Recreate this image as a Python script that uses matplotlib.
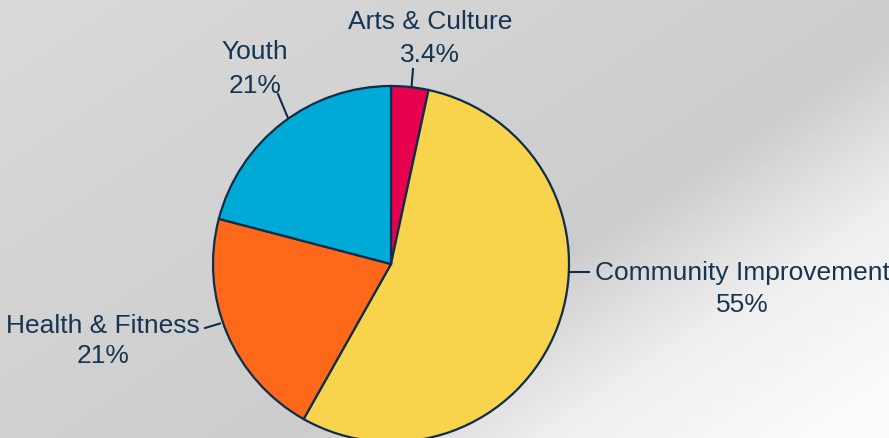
import numpy as np
import matplotlib
matplotlib.use("Agg")
import matplotlib.pyplot as plt

categories = ["Arts & Culture", "Community Improvement", "Health & Fitness", "Youth"]
values = [3.4, 55, 21, 21]
pct_labels = ["3.4%", "55%", "21%", "21%"]
colors = ["#e6004d", "#f7d44c", "#fd6919", "#00aad7"]

W, H = 889, 439
fig = plt.figure(figsize=(W / 100, H / 100), dpi=100)
ax = fig.add_axes([0, 0, 1, 1])

# background gradient
yy, xx = np.mgrid[0:H, 0:W]
p = xx + 1.5 * yy
bg = np.interp(p, [0, 650, 950, 1200, 1500], [218, 208, 204, 238, 252]) / 255.0
ax.imshow(bg, cmap="gray", vmin=0, vmax=1, extent=[0, W, 0, H], origin="upper",
          aspect="auto", zorder=0, interpolation="bilinear")

cx, cy, r = 391, H - 265, 178
ax.pie(values, colors=colors, startangle=90, counterclock=False,
       center=(cx, cy), radius=r,
       wedgeprops=dict(edgecolor="#0f2d4a", linewidth=1.6), frame=True)

ax.set_xlim(0, W)
ax.set_ylim(0, H)
ax.set_aspect("auto")
ax.axis("off")

txt = "#163552"
font = dict(family=["Liberation Sans Narrow", "Liberation Sans", "DejaVu Sans"], fontsize=19, color=txt)

label_pos = {
    "Arts & Culture": (430, 22, 55),
    "Community Improvement": (742, 273, 305),
    "Health & Fitness": (103, 326, 356),
    "Youth": (255, 52, 86),
}
for cat, pl in zip(categories, pct_labels):
    x, y1, y2 = label_pos[cat]
    ax.text(x, H - y1, cat, ha="center", va="center", **font)
    ax.text(x, H - y2, pl, ha="center", va="center", **font)

leaders = [((413, 70), (411.5, 88)),
           ((569, 272.5), (589, 272.5)),
           ((205, 329), (220, 324.5)),
           ((278, 95), (288, 119))]
for (x0, y0), (x1, y1) in leaders:
    ax.plot([x0, x1], [H - y0, H - y1], color="#0f2d4a", lw=1.5, zorder=5)

fig.savefig("out.png", dpi=100)
